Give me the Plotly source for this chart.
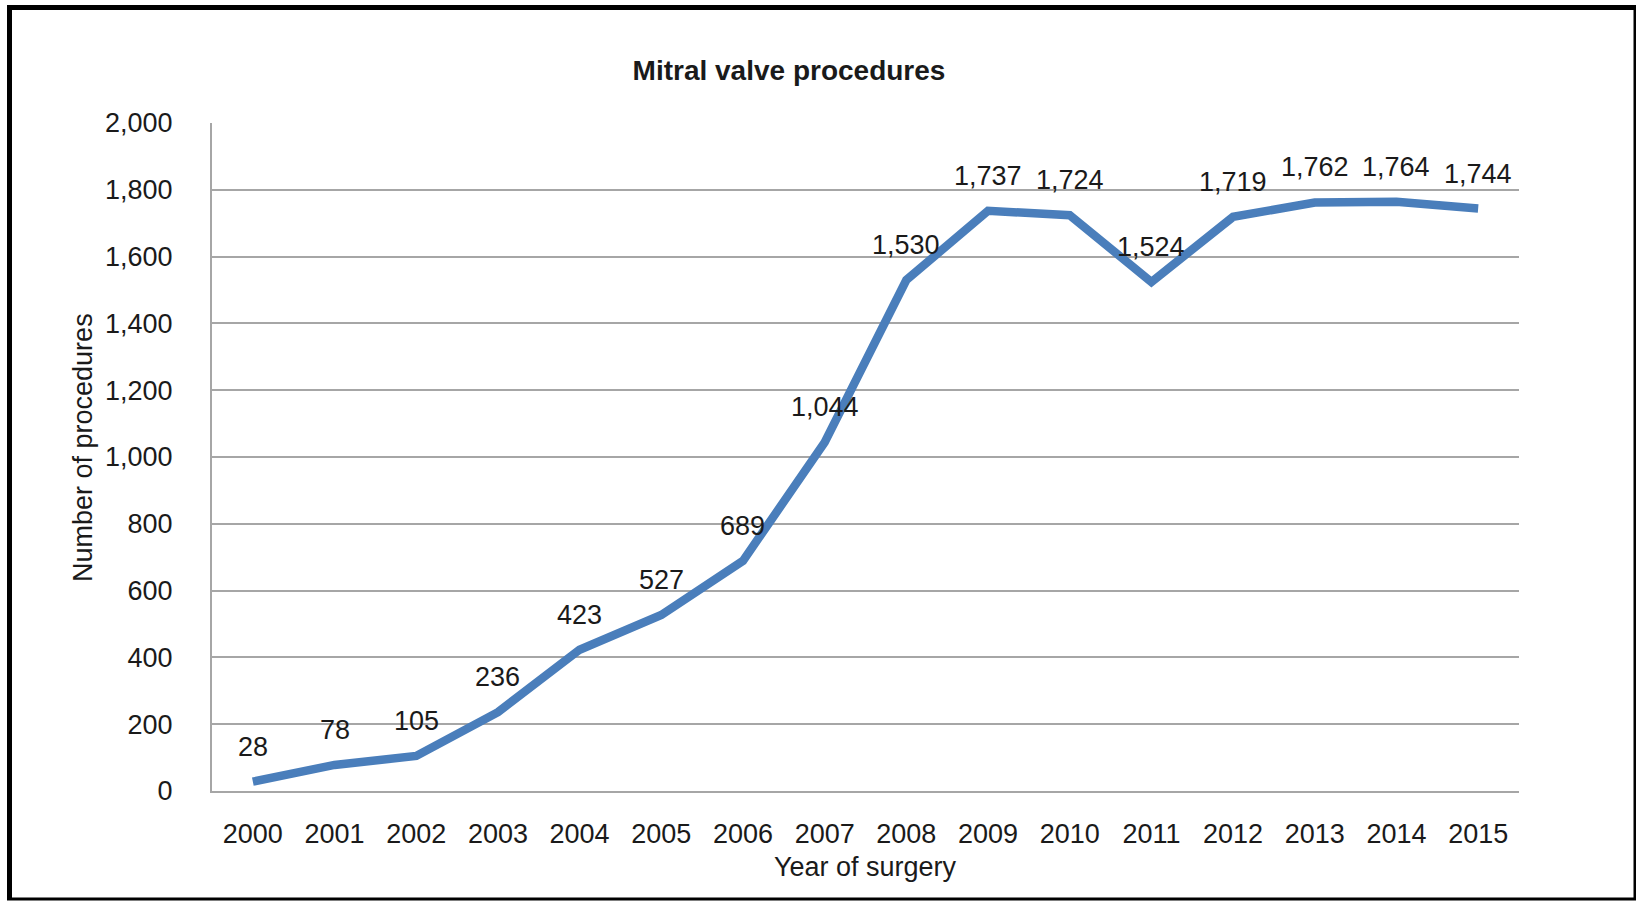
import plotly.graph_objects as go

# Mitral valve procedures per year of surgery
years = ["2000", "2001", "2002", "2003", "2004", "2005", "2006", "2007",
         "2008", "2009", "2010", "2011", "2012", "2013", "2014", "2015"]
procedures = [28, 78, 105, 236, 423, 527, 689, 1044,
              1530, 1737, 1724, 1524, 1719, 1762, 1764, 1744]

chart_title = "Mitral valve procedures"
x_title = "Year of surgery"
y_title = "Number of procedures"

W, H = 1637, 901
L, R, T, B = 212, 118, 123, 110
plot_w = W - L - R
plot_h = H - T - B

FONT = "Liberation Sans, Arial, Helvetica, sans-serif"
TXT = "#1a1a1a"
GRID = "#a6a6a6"
LINE = "#4a7ebb"


def px_x(px):
    return (px - L) / plot_w


def px_y(py):
    return (H - B - py) / plot_h


fig = go.Figure()
fig.add_trace(go.Scatter(
    x=years, y=procedures, mode="lines",
    line=dict(color=LINE, width=8.5),
    hoverinfo="x+y", showlegend=False,
))

annotations = []
# value labels above each point (category axis: x given as category index)
for i, v in enumerate(procedures):
    annotations.append(dict(
        x=i, y=v, xref="x", yref="y", text=f"{v:,}", showarrow=False,
        yshift=35, font=dict(family=FONT, size=27, color=TXT),
        xanchor="center", yanchor="middle",
    ))
# axis titles
annotations.append(dict(
    x=0.5, y=px_y(867), xref="paper", yref="paper", text=x_title,
    showarrow=False, font=dict(family=FONT, size=27, color=TXT),
    xanchor="center", yanchor="middle",
))
annotations.append(dict(
    x=px_x(83), y=px_y(448), xref="paper", yref="paper", text=y_title,
    showarrow=False, textangle=-90, font=dict(family=FONT, size=27, color=TXT),
    xanchor="center", yanchor="middle",
))

# frame around the chart
shapes = [
    dict(type="rect", xref="paper", yref="paper", layer="above",
         x0=px_x(7), x1=px_x(12), y0=px_y(900), y1=px_y(5),
         fillcolor="black", line=dict(width=0)),
    dict(type="rect", xref="paper", yref="paper", layer="above",
         x0=px_x(7), x1=px_x(1636), y0=px_y(10), y1=px_y(5),
         fillcolor="black", line=dict(width=0)),
    dict(type="rect", xref="paper", yref="paper", layer="above",
         x0=px_x(1633.5), x1=px_x(1636), y0=px_y(900), y1=px_y(5),
         fillcolor="black", line=dict(width=0)),
    dict(type="rect", xref="paper", yref="paper", layer="above",
         x0=px_x(7), x1=px_x(1636), y0=px_y(900.5), y1=px_y(897.5),
         fillcolor="black", line=dict(width=0)),
]

fig.update_layout(
    width=W, height=H,
    margin=dict(l=L, r=R, t=T, b=B, pad=0),
    paper_bgcolor="white", plot_bgcolor="white",
    title=dict(text=f"<b>{chart_title}</b>", x=px_x(789), xref="paper",
               xanchor="center", y=1 - 70 / H, yref="container",
               yanchor="middle", font=dict(family=FONT, size=28, color=TXT)),
    font=dict(family=FONT, size=27, color=TXT),
    annotations=annotations,
    shapes=shapes,
)

fig.update_xaxes(
    type="category", range=[-0.5, len(years) - 0.5],
    showgrid=False, zeroline=False,
    showline=True, linecolor=GRID, linewidth=2,
    ticks="", ticklabelstandoff=18,
    tickfont=dict(family=FONT, size=27, color=TXT),
)
fig.update_yaxes(
    range=[0, 2000], dtick=200, tickformat=",d",
    showgrid=True, gridcolor=GRID, gridwidth=2, zeroline=False,
    showline=True, linecolor=GRID, linewidth=2,
    ticks="", ticklabelstandoff=32,
    tickfont=dict(family=FONT, size=27, color=TXT),
)

fig.write_html("out.html")
